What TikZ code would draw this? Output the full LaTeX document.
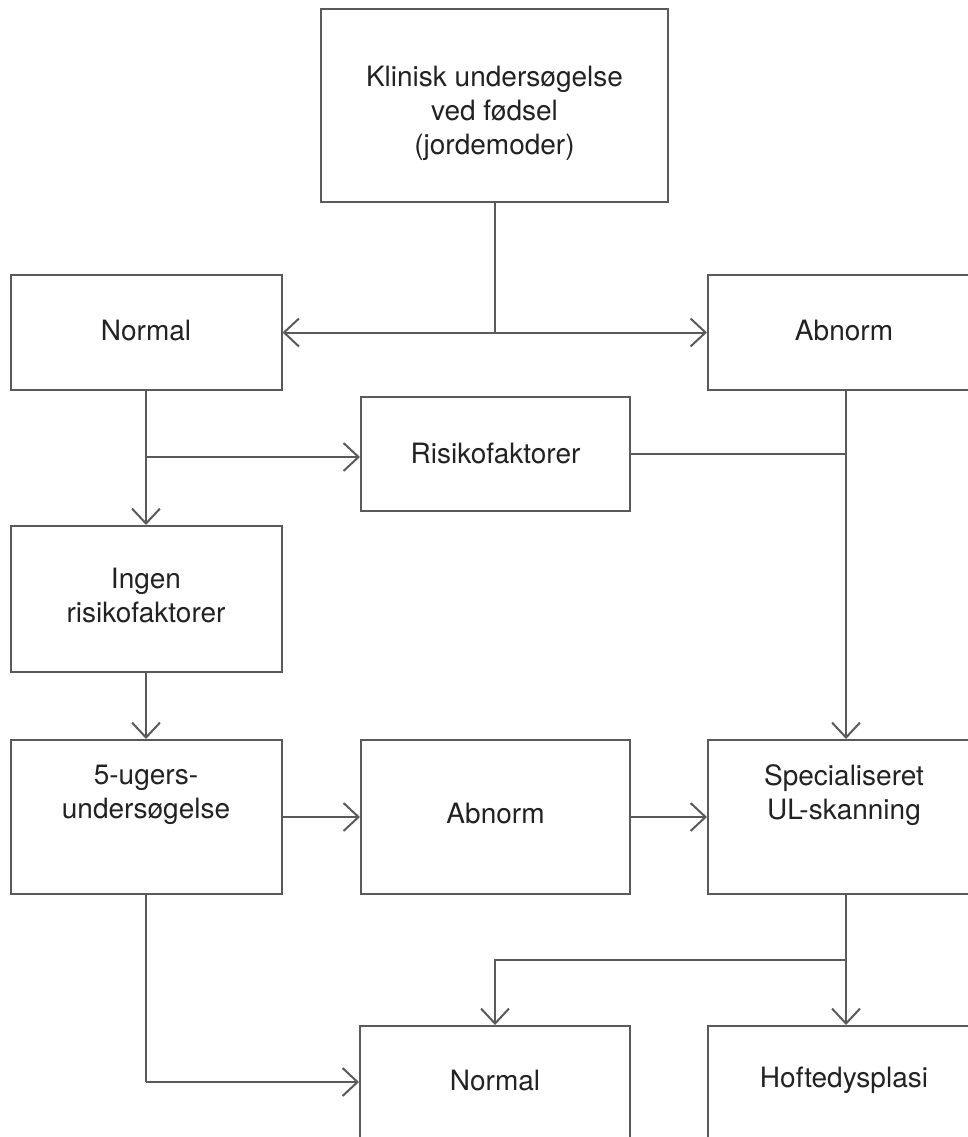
\documentclass[tikz,border=0pt]{standalone}
\usepackage{fontspec}
\setmainfont{TeX Gyre Heros}
\usetikzlibrary{arrows.meta}
\definecolor{linegray}{HTML}{5A5A5A}
\definecolor{textgray}{HTML}{222222}
\begin{document}
\begin{tikzpicture}[x=1pt,y=-1pt,
  box/.style={draw=linegray, line width=2pt, fill=white, inner sep=0pt},
  txt/.style={align=center, text=textgray, font=\fontsize{28}{34}\selectfont, inner sep=0pt},
  conn/.style={draw=linegray, line width=2pt},
  arr/.style={conn, -{Straight Barb[length=15pt,width=28pt]}}]
\useasboundingbox (0,0) rectangle (968,1137);
\clip (0,0) rectangle (968,1137);
% boxes
\node[box, minimum width=347pt, minimum height=193pt] (top) at (494.5,105.5) {};
\node[box, minimum width=271pt, minimum height=115pt] (nL) at (146,332.5) {};
\node[box, minimum width=276pt, minimum height=115pt] (aR) at (846,332.5) {};
\node[box, minimum width=269pt, minimum height=114pt] (risk) at (495.5,454) {};
\node[box, minimum width=271pt, minimum height=146pt] (ingen) at (146,599) {};
\node[box, minimum width=271pt, minimum height=154pt] (fem) at (146,817) {};
\node[box, minimum width=269pt, minimum height=154pt] (abm) at (495.5,817) {};
\node[box, minimum width=276pt, minimum height=154pt] (spec) at (846,817) {};
\node[box, minimum width=270pt, minimum height=112pt, anchor=north] (nB) at (495,1025) {};
\node[box, minimum width=276pt, minimum height=112pt, anchor=north] (hofte) at (846,1025) {};
% texts
\node[txt] (topT) at (494.5,113) {Klinisk undersøgelse\\ved fødsel\\(jordemoder)};
\node[txt] (nLT) at (146,331) {Normal};
\node[txt] (aRT) at (844,331) {Abnorm};
\node[txt] (riskT) at (495.5,453) {Risikofaktorer};
\node[txt] (ingenT) at (146,595) {Ingen\\risikofaktorer};
\node[txt] (femT) at (146,795) {5-ugers-\\undersøgelse};
\node[txt] (abmT) at (495.5,813) {Abnorm};
\node[txt] (specT) at (844,795) {Specialiseret\\UL-skanning};
\node[txt] (nBT) at (495,1080) {Normal};
\node[txt] (hofteT) at (844,1080) {Hoftedysplasi};
% connectors
\coordinate (J1) at (top.south |- nL.east);
\coordinate (J2) at (nL.south |- 0,457);
\coordinate (J3) at (spec.south |- 0,960);
\coordinate (J4) at (fem.south |- 0,1082);
\draw[conn] (top.south) -- (J1);
\draw[arr] (J1) -- (nL.east);
\draw[arr] (J1) -- (aR.west);
\draw[arr] (nL.south) -- (ingen.north);
\draw[arr] (J2) -- (risk.west |- J2);
\draw[conn] (risk.east) -- (aR.south |- risk.east);
\draw[arr] (aR.south) -- (spec.north);
\draw[arr] (ingen.south) -- (fem.north);
\draw[arr] (fem.east) -- (abm.west);
\draw[arr] (abm.east) -- (spec.west);
\draw[arr] (spec.south) -- (hofte.north);
\draw[arr] (J3) -| (nB.north);
\draw[conn] (fem.south) -- (J4);
\draw[arr] (J4) -- (nB.west |- J4);
\end{tikzpicture}
\end{document}
